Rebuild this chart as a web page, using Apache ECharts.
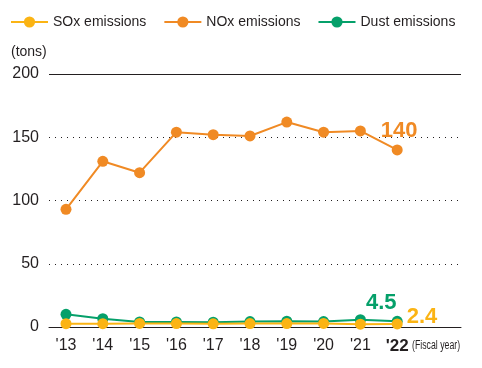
<!DOCTYPE html>
<html><head><meta charset="utf-8">
<script src="https://cdn.jsdelivr.net/npm/echarts@6/dist/echarts.min.js"></script>
<style>html,body{margin:0;padding:0;background:#fff}#c{width:482px;height:368px}</style>
</head><body><div id="c"></div>
<script>
var categories = ["'13","'14","'15","'16","'17","'18","'19","'20","'21","'22"];
var soxValues = [2.6, 2.6, 2.8, 2.7, 2.5, 2.7, 2.7, 2.8, 2.2, 2.4];
var noxValues = [93, 131, 122, 154, 152, 151, 162, 154, 155, 140];
var dustValues = [10, 6.6, 4, 4, 3.8, 4.3, 4.6, 4.3, 5.8, 4.5];
var yTicks = [0, 50, 100, 150, 200];

var FONT = '"Liberation Sans", Arial, sans-serif';
var C_SOX = '#FBB414', C_NOX = '#F08A24', C_DUST = '#05A06A';

function mk(values, color, labelOpt) {
  return values.map(function (v, i) {
    var d = { value: [i, v] };
    if (i === values.length - 1 && labelOpt) {
      d.label = Object.assign({ show: true, color: color, fontFamily: FONT, fontWeight: 'bold', fontSize: 22,
        formatter: function (p) { return p.value[1]; } }, labelOpt);
    }
    return d;
  });
}
function series(name, values, color, labelOpt, z) {
  return { name: name, type: 'line', data: mk(values, color, labelOpt), symbol: 'circle', symbolSize: 11,
    z: z, color: color, lineStyle: { width: 2, color: color }, itemStyle: { color: color },
    emphasis: { disabled: true }, animation: false };
}

var chart = echarts.init(document.getElementById('c'));
var dust = series('Dust emissions', dustValues, C_DUST, { position: 'top', offset: [-16, 3] }, 2);
var sox = series('SOx emissions', soxValues, C_SOX, { position: 'right', offset: [-1, -7] }, 4);
var nox = series('NOx emissions', noxValues, C_NOX, { position: 'top', offset: [2, 3] }, 3);
nox.markLine = { silent: true, symbol: 'none', label: { show: false }, animation: false,
  lineStyle: { color: '#231f20', type: 'solid', width: 1 }, data: [{ yAxis: yTicks[yTicks.length - 1] }] };

chart.setOption({
  animation: false,
  textStyle: { fontFamily: FONT },
  legend: {
    data: ['SOx emissions', 'NOx emissions', 'Dust emissions'],
    left: 5, top: 10, itemWidth: 37, itemHeight: 14, itemGap: 17,
    textStyle: { fontSize: 14, color: '#231f20', fontFamily: FONT }
  },
  grid: { left: 49, right: 21, top: 74, bottom: 41, containLabel: false },
  xAxis: {
    type: 'value', min: -0.462, max: 10.734,
    axisLine: { show: true, onZero: false, lineStyle: { color: '#231f20', width: 1 } },
    axisTick: { show: false }, splitLine: { show: false },
    axisLabel: {
      customValues: categories.map(function (c, i) { return i; }),
      margin: 11, fontSize: 16, color: '#231f20', fontFamily: FONT,
      formatter: function (v) {
        var i = Math.round(v);
        return i === categories.length - 1 ? '{b|' + categories[i] + '}' : categories[i];
      },
      rich: { b: { fontWeight: 'bold', fontSize: 17, color: '#231f20', fontFamily: FONT } }
    }
  },
  yAxis: {
    type: 'value', min: yTicks[0], max: yTicks[yTicks.length - 1], interval: 50,
    axisLine: { show: false }, axisTick: { show: false },
    axisLabel: { fontSize: 16, color: '#231f20', margin: 10, fontFamily: FONT },
    splitLine: { lineStyle: { type: [1, 5], color: '#231f20', width: 1 } }
  },
  graphic: [
    { type: 'text', left: 11, top: 45, style: { text: '(tons)', fontSize: 14, fill: '#231f20', fontFamily: FONT } },
    { type: 'text', x: 412, y: 339, scaleX: 0.7, style: { text: '(Fiscal year)', fontSize: 12.5, fill: '#231f20', fontFamily: FONT } }
  ],
  series: [sox, nox, dust]
});
</script></body></html>
